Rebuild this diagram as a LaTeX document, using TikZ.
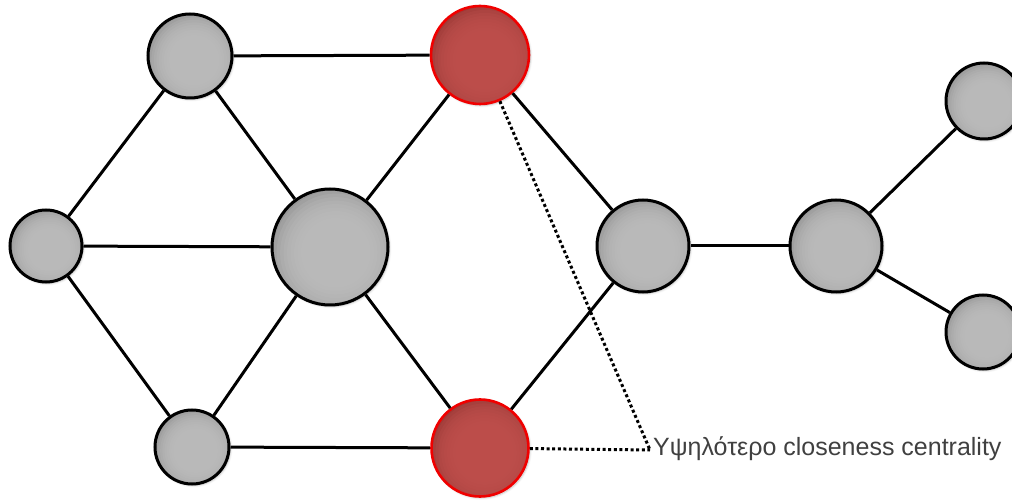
\documentclass[tikz,border=0pt]{standalone}
\usepackage{fontspec}
\setmainfont{Liberation Sans}
\usetikzlibrary{shadows.blur,calc}
\definecolor{gcen}{HTML}{BEBEBE}
\definecolor{gedge}{HTML}{7A7A7A}
\definecolor{rcen}{HTML}{C0504D}
\definecolor{redge}{HTML}{842C2A}
\definecolor{rline}{HTML}{F00000}
\definecolor{txt}{HTML}{404040}
\tikzset{
  ballfill/.style 2 args={path picture={
    \fill[#2] (path picture bounding box.south west) rectangle (path picture bounding box.north east);
    \foreach \k in {0,...,10}{
      \fill[#1, opacity=0.25]
        let \p1=($(path picture bounding box.north east)-(path picture bounding box.south west)$) in
        ($(path picture bounding box.center)+(0.05*\x1,-0.05*\x1)$)
        circle[radius={(0.6-0.03*\k)*\x1}];
    }
  }},
  gnode/.style={circle, inner sep=0pt, draw=black, line width=3pt, fill=gcen, ballfill={gcen}{gedge},
    blur shadow={shadow xshift=1.5pt, shadow yshift=-1.5pt, shadow opacity=25, shadow blur steps=6}},
  rnode/.style={circle, inner sep=0pt, draw=rline, line width=2.6pt, fill=rcen, ballfill={rcen}{redge},
    blur shadow={shadow xshift=1.5pt, shadow yshift=-1.5pt, shadow opacity=25, shadow blur steps=6}},
  link/.style={line width=3pt, black},
  pointer/.style={line width=3pt, black, dash pattern=on 3pt off 2.6pt},
  lbltext/.style={anchor=west, inner sep=0pt, text=txt, font=\fontsize{25pt}{28pt}\selectfont}
}
\begin{document}
\begin{tikzpicture}[x=1pt,y=-1pt]
\useasboundingbox (0,0) rectangle (1012,502);
\node[gnode, minimum size=84pt] (a) at (190,56) {};
\node[rnode, minimum size=98pt] (rt) at (480,55) {};
\node[gnode, minimum size=72pt] (l) at (46,246) {};
\node[gnode, minimum size=116pt] (c) at (330,247) {};
\node[gnode, minimum size=74pt] (bl) at (192,447) {};
\node[rnode, minimum size=97pt] (rb) at (480,448) {};
\node[gnode, minimum size=92pt] (mr) at (643,246) {};
\node[gnode, minimum size=92pt] (r) at (836,246) {};
\node[gnode, minimum size=76pt] (tr) at (984,101) {};
\node[gnode, minimum size=74pt] (br) at (983,332) {};
\coordinate (lbl) at (650,450);
\node[lbltext] (t) at (653,449) {Υψηλότερο closeness centrality};
\draw[link] (a) -- (rt);
\draw[link] (a) -- (l);
\draw[link] (a) -- (c);
\draw[link] (l) -- (c);
\draw[link] (l) -- (bl);
\draw[link] (bl) -- (c);
\draw[link] (bl) -- (rb);
\draw[link] (rt) -- (c);
\draw[link] (rb) -- (c);
\draw[link] (rt) -- (mr);
\draw[link] (rb) -- (mr);
\draw[link] (mr) -- (r);
\draw[link] (r) -- (tr);
\draw[link] (r) -- (br);
\draw[pointer] (rt) -- (lbl);
\draw[pointer] (rb) -- (lbl);
\end{tikzpicture}
\end{document}
